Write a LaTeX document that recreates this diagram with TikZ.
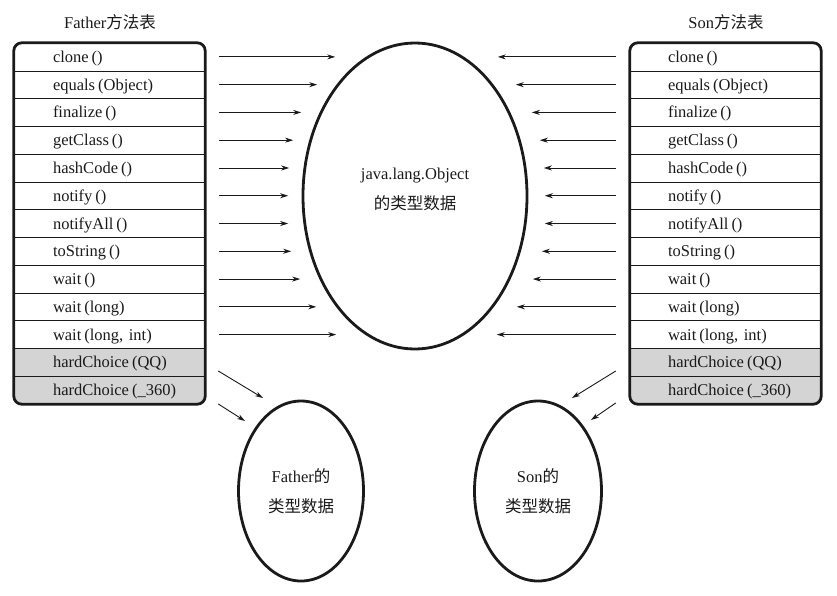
\documentclass[tikz,border=0pt]{standalone}
\usepackage{fontspec}
\setmainfont{Liberation Serif}
\newfontfamily\cjk{Noto Sans CJK SC}
\usetikzlibrary{arrows.meta,shapes.geometric}
\definecolor{rowgray}{HTML}{D4D4D4}
\definecolor{ink}{HTML}{1A1A1A}
\newcommand\pa[1]{\hspace{3pt}(#1)}
\begin{document}
\begin{tikzpicture}[x=1pt,y=-1pt,
  font=\fontsize{16.5}{19}\selectfont, color=ink,
  rowbox/.style={minimum width=191pt, minimum height=27.77pt, text width=191pt,
    inner sep=0pt, align=left, text height=15pt, text depth=4pt},
  sepline/.style={line width=0.9pt},
  border/.style={line width=2.8pt, rounded corners=8pt},
  ell/.style={ellipse, draw, line width=2.8pt, inner sep=0pt, align=center,
    font=\fontsize{16.5}{29.5}\selectfont},
  arr/.style={-{Stealth[length=8pt,width=5pt,inset=2.5pt]}, line width=0.9pt},
  title/.style={inner sep=0pt}]
\useasboundingbox (0,0) rectangle (837,595);
\def\rh{27.77}
% gray fills
\begin{scope}
\clip[rounded corners=8pt] (14,43) rectangle (205,404);
\fill[rowgray] (14,{43+11*\rh}) rectangle (205,404);
\end{scope}
\begin{scope}
\clip[rounded corners=8pt] (630,43) rectangle (821,404);
\fill[rowgray] (630,{43+11*\rh}) rectangle (821,404);
\end{scope}
% titles
\node[title] (FaTitle) at (110,22) {Father{\cjk 方法表}};
\node[title] (SoTitle) at (726,22) {Son{\cjk 方法表}};
% rows
\foreach \k/\t in {1/{clone\pa{}}, 2/{equals\pa{Object}}, 3/{finalize\pa{}},
  4/{getClass\pa{}}, 5/{hashCode\pa{}}, 6/{notify\pa{}}, 7/{notifyAll\pa{}},
  8/{toString\pa{}}, 9/{wait\pa{}}, 10/{wait\pa{long}}, 11/{wait\pa{long, int}},
  12/{hardChoice\pa{QQ}}, 13/{hardChoice\pa{\_360}}}{
  \node[rowbox] (Fa\k) at (109.5,{43+(\k-0.5)*\rh}) {\hspace*{39pt}\t};
  \node[rowbox] (So\k) at (725.5,{43+(\k-0.5)*\rh}) {\hspace*{38pt}\t};
}
\foreach \k in {1,...,12}{
  \draw[sepline] (Fa\k.south west) -- (Fa\k.south east);
  \draw[sepline] (So\k.south west) -- (So\k.south east);
}
\draw[border] (Fa1.north west) rectangle (Fa13.south east);
\draw[border] (So1.north west) rectangle (So13.south east);
% ellipses
\node[ell, minimum width=224pt, minimum height=306pt, text depth=14pt] (Obj) at (415,196)
  {java.lang.Object\\{\cjk 的类型数据}};
\node[ell, minimum width=125pt, minimum height=180pt] (FaData) at (301,491)
  {Father{\cjk 的}\\{\cjk 类型数据}};
\node[ell, minimum width=127pt, minimum height=180pt] (SoData) at (538,491)
  {Son{\cjk 的}\\{\cjk 类型数据}};
% horizontal arrows
\foreach \k/\e in {1/335, 2/317, 3/301, 4/293, 5/289, 6/288, 7/288, 8/291, 9/300, 10/316, 11/336}{
  \draw[arr] ([xshift=14pt]Fa\k.east) -- ([xshift={(\e-205)*1pt}]Fa\k.east);
  \draw[arr] ([xshift=-14pt]So\k.west) -- ([xshift={(833-\e-630)*1pt}]So\k.west);
}
% diagonal arrows
\coordinate (fa1) at (263,398);
\coordinate (fa2) at (245,421);
\coordinate (so1) at (572,398);
\coordinate (so2) at (591,420);
\draw[arr] ([shift={(13,8.6)}]Fa12.east) -- (fa1);
\draw[arr] ([shift={(13,13.8)}]Fa13.east) -- (fa2);
\draw[arr] ([shift={(-14,8.6)}]So12.west) -- (so1);
\draw[arr] ([shift={(-14,12.8)}]So13.west) -- (so2);
\end{tikzpicture}
\end{document}
